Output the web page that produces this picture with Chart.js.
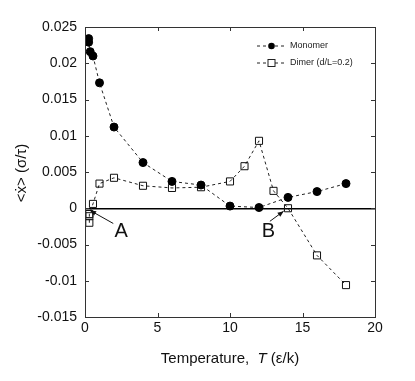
<!DOCTYPE html>
<html>
<head>
<meta charset="utf-8">
<script src="https://cdn.jsdelivr.net/npm/chart.js@4.4.1/dist/chart.umd.min.js"></script>
<style>
html,body{margin:0;padding:0;background:#fff;}
#wrap{width:415px;height:381px;position:relative;}
</style>
</head>
<body>
<div id="wrap"><canvas id="c" width="415" height="381"></canvas></div>
<script>
// ---- data ----
const monomerT = [0.25, 0.25, 0.36, 0.55, 1, 2, 4, 6, 8, 10, 12, 14, 16, 18];
const monomerV = [0.0234, 0.0229, 0.0216, 0.0210, 0.0173, 0.0112, 0.0063, 0.0037, 0.0032, 0.0003, 0.0001, 0.0015, 0.0023, 0.0034];
const dimerT = [0.3, 0.3, 0.3, 0.55, 1, 2, 4, 6, 8, 10, 11, 12, 13, 14, 16, 18];
const dimerV = [-0.0020, -0.0011, -0.0008, 0.0006, 0.0034, 0.0042, 0.0031, 0.0028, 0.0029, 0.0037, 0.0058, 0.0093, 0.0024, 0.0000, -0.0065, -0.0106];
const xTickValues = [0, 5, 10, 15, 20];
const yTickValues = [-0.015, -0.01, -0.005, 0, 0.005, 0.01, 0.015, 0.02, 0.025];
const seriesLabels = ['Monomer', 'Dimer (d/L=0.2)'];
const xTitleParts = ['Temperature,  ', 'T', ' (ε/k)'];
const yTitle = '<x\u0307> (σ/τ)';
// annotations: [label, textT, textV, tailT, tailV, headT, headV]
const annotations = [
  ['A', 2.5, -0.0032, 1.95, -0.0021, 0.35, -0.0003],
  ['B', 12.65, -0.0032, 12.75, -0.0018, 13.7, -0.0004]
];

const FONT = '"Liberation Sans", Arial, Helvetica, sans-serif';

const pts = (xs, ys) => xs.map((x, i) => ({x: x, y: ys[i]}));

const framePlugin = {
  id: 'frame',
  afterDraw(chart) {
    const ctx = chart.ctx;
    const a = chart.chartArea;
    const xs = chart.scales.x, ys = chart.scales.y;
    ctx.save();
    // frame
    ctx.strokeStyle = '#333';
    ctx.lineWidth = 1;
    ctx.strokeRect(Math.round(a.left) + 0.5, Math.round(a.top) + 0.5, Math.round(a.right - a.left), Math.round(a.bottom - a.top));
    // inward ticks
    const tl = 4;
    ctx.beginPath();
    xTickValues.forEach(v => {
      if (v === xs.min || v === xs.max) return;
      const px = Math.round(xs.getPixelForValue(v)) + 0.5;
      ctx.moveTo(px, a.bottom); ctx.lineTo(px, a.bottom - tl);
      ctx.moveTo(px, a.top); ctx.lineTo(px, a.top + tl);
    });
    yTickValues.forEach(v => {
      if (v === ys.min || v === ys.max) return;
      const py = Math.round(ys.getPixelForValue(v)) + 0.5;
      ctx.moveTo(a.left, py); ctx.lineTo(a.left + tl, py);
      ctx.moveTo(a.right, py); ctx.lineTo(a.right - tl, py);
    });
    ctx.stroke();

    // axis titles
    ctx.fillStyle = '#111';
    ctx.textBaseline = 'middle';
    // x title with italic T
    const fontN = '15px ' + FONT, fontI = 'italic 15px ' + FONT;
    ctx.font = fontN;
    const w0 = ctx.measureText(xTitleParts[0]).width;
    const w2 = ctx.measureText(xTitleParts[2]).width;
    ctx.font = fontI;
    const w1 = ctx.measureText(xTitleParts[1]).width;
    const total = w0 + w1 + w2;
    let x0 = (a.left + a.right) / 2 - total / 2;
    const yT = 359;
    ctx.textAlign = 'left';
    ctx.font = fontN; ctx.fillText(xTitleParts[0], x0, yT);
    ctx.font = fontI; ctx.fillText(xTitleParts[1], x0 + w0, yT);
    ctx.font = fontN; ctx.fillText(xTitleParts[2], x0 + w0 + w1, yT);
    // y title
    ctx.save();
    ctx.translate(22, 173);
    ctx.rotate(-Math.PI / 2);
    ctx.textAlign = 'center';
    ctx.font = '15px ' + FONT;
    ctx.fillText(yTitle, 0, 0);
    ctx.restore();

    // annotations
    annotations.forEach(an => {
      const tx = xs.getPixelForValue(an[1]), ty = ys.getPixelForValue(an[2]);
      ctx.font = '20px ' + FONT;
      ctx.textAlign = 'center';
      ctx.textBaseline = 'middle';
      ctx.fillStyle = '#111';
      ctx.fillText(an[0], tx, ty);
      const x1 = xs.getPixelForValue(an[3]), y1 = ys.getPixelForValue(an[4]);
      const x2 = xs.getPixelForValue(an[5]), y2 = ys.getPixelForValue(an[6]);
      ctx.strokeStyle = '#111';
      ctx.lineWidth = 1;
      ctx.beginPath(); ctx.moveTo(x1, y1); ctx.lineTo(x2, y2); ctx.stroke();
      const ang = Math.atan2(y2 - y1, x2 - x1);
      const hl = 6, hw = 2.5;
      ctx.beginPath();
      ctx.moveTo(x2, y2);
      ctx.lineTo(x2 - hl * Math.cos(ang) + hw * Math.sin(ang), y2 - hl * Math.sin(ang) - hw * Math.cos(ang));
      ctx.lineTo(x2 - hl * Math.cos(ang) - hw * Math.sin(ang), y2 - hl * Math.sin(ang) + hw * Math.cos(ang));
      ctx.closePath(); ctx.fill();
    });

    // legend
    const lx = 257, ly = [46, 63];
    chart.data.datasets.forEach((ds, i) => {
      const y = ly[i];
      ctx.strokeStyle = '#222';
      ctx.lineWidth = 1;
      ctx.setLineDash([3, 3]);
      ctx.beginPath(); ctx.moveTo(lx, y); ctx.lineTo(lx + 29, y); ctx.stroke();
      ctx.setLineDash([]);
      const cx = lx + 14.5;
      if (i === 0) {
        ctx.fillStyle = '#000';
        ctx.beginPath(); ctx.arc(cx, y, 3.3, 0, Math.PI * 2); ctx.fill();
      } else {
        ctx.fillStyle = '#fff';
        ctx.fillRect(cx - 3.5, y - 3.5, 7, 7);
        ctx.strokeRect(cx - 3.5, y - 3.5, 7, 7);
      }
      ctx.fillStyle = '#222';
      ctx.font = '9px ' + FONT;
      ctx.textAlign = 'left';
      ctx.textBaseline = 'middle';
      ctx.fillText(ds.label, lx + 33, y);
    });
    ctx.restore();
  }
};

new Chart(document.getElementById('c'), {
  type: 'scatter',
  data: {
    datasets: [
      {
        label: seriesLabels[0],
        data: pts(monomerT, monomerV),
        showLine: true,
        borderColor: '#222',
        borderWidth: 1,
        borderDash: [3, 3],
        pointStyle: 'circle',
        pointRadius: 4,
        pointBackgroundColor: '#000',
        pointBorderColor: '#000',
        pointBorderWidth: 1
      },
      {
        label: seriesLabels[1],
        data: pts(dimerT, dimerV),
        showLine: true,
        borderColor: '#222',
        borderWidth: 1,
        borderDash: [3, 3],
        pointStyle: 'rect',
        pointRadius: 5,
        pointBackgroundColor: 'rgba(255,255,255,0)',
        pointBorderColor: '#111',
        pointBorderWidth: 1
      }
    ]
  },
  plugins: [framePlugin],
  options: {
    responsive: false,
    animation: false,
    devicePixelRatio: 1,
    layout: {padding: {left: 0, top: 27, right: 40, bottom: 0}},
    plugins: {legend: {display: false}, tooltip: {enabled: false}},
    scales: {
      x: {
        type: 'linear', min: 0, max: 20,
        afterBuildTicks: s => { s.ticks = xTickValues.map(v => ({value: v})); },
        afterFit: s => { s.height = 64; },
        grid: {display: false, drawTicks: false},
        border: {display: false},
        ticks: {padding: 3, color: '#111', font: {family: FONT, size: 14}, callback: v => String(v)}
      },
      y: {
        type: 'linear', min: -0.015, max: 0.025,
        afterBuildTicks: s => { s.ticks = yTickValues.map(v => ({value: v})); },
        afterFit: s => { s.width = 85; },
        grid: {
          drawTicks: false,
          color: c => (c.tick && Math.abs(c.tick.value) < 1e-9) ? '#000' : 'rgba(0,0,0,0)',
          lineWidth: c => (c.tick && Math.abs(c.tick.value) < 1e-9) ? 1.5 : 0
        },
        border: {display: false},
        ticks: {padding: 8, color: '#111', font: {family: FONT, size: 14}, callback: v => String(Number(v.toFixed(3)))}
      }
    }
  }
});
</script>
</body>
</html>
